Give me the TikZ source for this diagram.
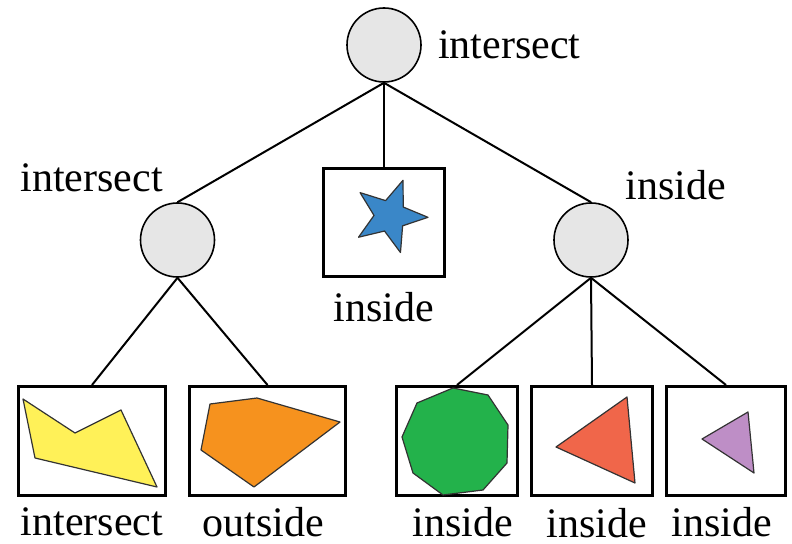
\documentclass[tikz,border=0pt]{standalone}
\usepackage{fontspec}
\setmainfont{Liberation Serif}
\usetikzlibrary{positioning}
\definecolor{splitgray}{RGB}{230,230,230}
\definecolor{polyyellow}{RGB}{255,241,88}
\definecolor{polyorange}{RGB}{246,146,30}
\definecolor{polygreen}{RGB}{35,178,75}
\definecolor{polyred}{RGB}{240,102,74}
\definecolor{polypurple}{RGB}{190,142,198}
\definecolor{starblue}{RGB}{58,135,200}

\begin{document}
\begin{tikzpicture}[
    x=0.5pt, y=-0.5pt,
    split/.style={circle, draw, line width=0.8pt, fill=splitgray, minimum size=37pt, inner sep=0pt},
    leaf/.style={rectangle, draw, line width=1.5pt, minimum height=54.5pt, inner sep=0pt},
    lbl/.style={font=\fontsize{21}{25}\selectfont, inner sep=0pt},
    edge/.style={line width=1pt},
    shapeline/.style={draw=black!80, line width=0.6pt, line join=round}
]
    \useasboundingbox (0,0) rectangle (792,544);

    % tree nodes
    \node[split] (root) at (384,45) {};
    \node[split] (lc) at (177.5,240) {};
    \node[split] (rc) at (591,240) {};
    \node[leaf, minimum width=60.5pt, minimum height=54pt] (mid) at (384,222.5) {};
    \node[leaf, minimum width=73.5pt] (b1) at (92,441) {};
    \node[leaf, minimum width=78pt] (b2) at (267.5,441) {};
    \node[leaf, minimum width=60.5pt] (b3) at (457,441) {};
    \node[leaf, minimum width=60.5pt] (b4) at (592,441) {};
    \node[leaf, minimum width=59.5pt] (b5) at (726,441) {};

    % labels
    \node[lbl, right=8pt of root] (rootlbl) {intersect};
    \node[lbl, anchor=base west] (lclbl) at (20,192) {intersect};
    \node[lbl, anchor=base west] (rclbl) at (625,200) {inside};
    \node[lbl, below=7pt of mid] (midlbl) {inside};
    \node[lbl, below=5pt of b1] (b1lbl) {intersect};
    \node[lbl, below=5pt of b2, xshift=-2pt] (b2lbl) {outside};
    \node[lbl, below=5pt of b3, xshift=3pt] (b3lbl) {inside};
    \node[lbl, below=5.5pt of b4, xshift=2.5pt] (b4lbl) {inside};
    \node[lbl, below=5pt of b5, xshift=-2pt] (b5lbl) {inside};

    % edges
    \draw[edge] (root.south) -- (lc.north);
    \draw[edge] (root.south) -- (mid.north);
    \draw[edge] (root.south) -- (rc.north);
    \draw[edge] (lc.south) -- (b1.north);
    \draw[edge] (lc.south) -- (b2.north);
    \draw[edge] (rc.south) -- (b3.north);
    \draw[edge] (rc.south) -- (b4.north);
    \draw[edge] (rc.south) -- (b5.north);

    % shapes in the boxes
    \filldraw[shapeline, fill=starblue, shift={(390,216)}] (2:38)
        \foreach \a in {2,74,146,218,290} { -- (\a:38) -- ({\a+36}:16) } -- cycle;
    \filldraw[shapeline, fill=polyyellow] (23,399) -- (75,433) -- (121,410) -- (157,487) -- (35,458) -- cycle;
    \filldraw[shapeline, fill=polyorange] (210,404) -- (257,398) -- (340,422) -- (254,487) -- (201,450) -- cycle;
    \filldraw[shapeline, fill=polygreen] (453,388) -- (488,395) -- (508,425) -- (507,463) -- (483,490)
        -- (443,495) -- (413,473) -- (402,437) -- (417,403) -- cycle;
    \filldraw[shapeline, fill=polyred] (627,397) -- (635,483) -- (556,447) -- cycle;
    \filldraw[shapeline, fill=polypurple] (748,412) -- (754,473) -- (702,439) -- cycle;
\end{tikzpicture}
\end{document}
